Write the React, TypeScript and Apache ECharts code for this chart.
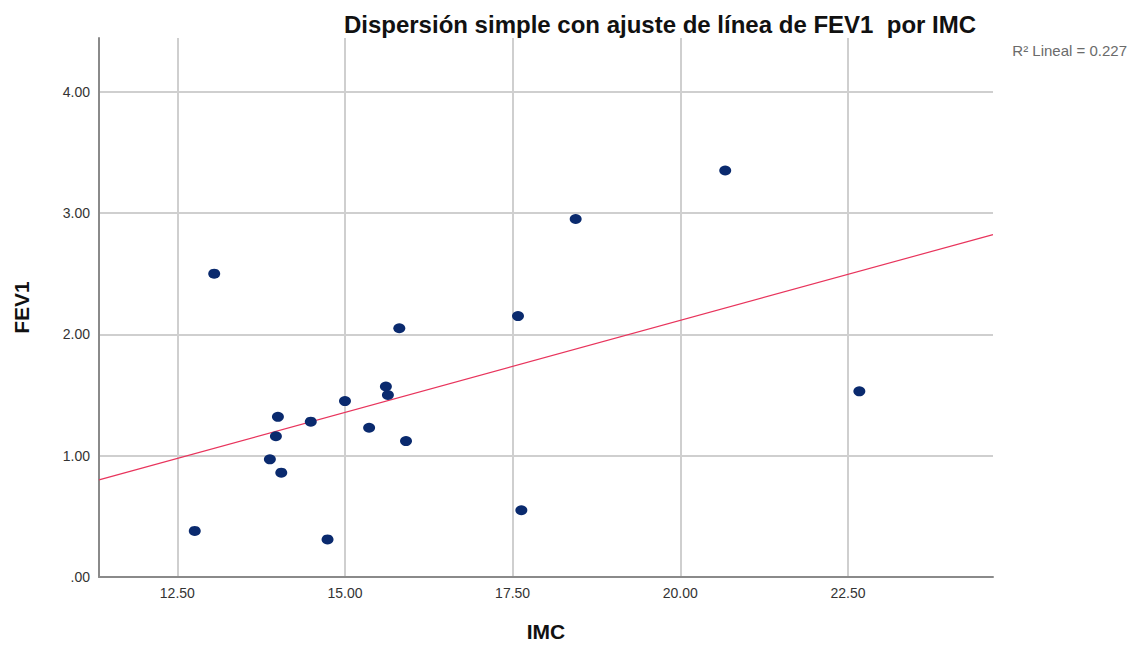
import React, { useEffect, useRef } from "react";
import * as echarts from "echarts";

const imc = [13.05, 15.81, 15.61, 15.64, 15.0, 14.0, 14.49, 15.36, 13.97, 15.91, 13.88, 14.05, 12.76, 14.74, 20.67, 18.44, 17.58, 22.67, 17.63];
const fev1 = [2.5, 2.05, 1.57, 1.5, 1.45, 1.32, 1.28, 1.23, 1.16, 1.12, 0.97, 0.86, 0.38, 0.31, 3.35, 2.95, 2.15, 1.53, 0.55];
const fitX = [11.332, 24.663];
const fitY = [0.8, 2.822];
const xTicks = [12.5, 15, 17.5, 20, 22.5];
const yTicks = [0, 1, 2, 3, 4];
const xRange = [11.332, 24.663];
const yRange = [0, 4.442];

const FONT = "Liberation Sans, Arial, sans-serif";

export default function App() {
  const ref = useRef<HTMLDivElement>(null);
  useEffect(() => {
    if (!ref.current) return;
    document.body.style.margin = "0";
    document.body.style.overflow = "hidden";
    document.documentElement.style.overflow = "hidden";
    const chart = echarts.init(ref.current, null, { renderer: "svg" });
    chart.setOption({
      animation: false,
      backgroundColor: "#ffffff",
      textStyle: { fontFamily: FONT },
      title: {
        text: "Dispersión simple con ajuste de línea de FEV1  por IMC",
        left: 655,
        top: 7,
        textAlign: "center",
        textStyle: { fontFamily: FONT, fontSize: 24, fontWeight: "bold", color: "#111" },
      },
      graphic: [
        {
          type: "text",
          right: 8,
          top: 43,
          style: { text: "R² Lineal = 0.227", fontFamily: FONT, fontSize: 15, fill: "#6b6b6b" },
        },
      ],
      grid: { left: 99, width: 894, top: 38, height: 546, containLabel: false },
      xAxis: {
        type: "value",
        min: xRange[0],
        max: xRange[1],
        name: "IMC",
        nameLocation: "middle",
        nameGap: 44,
        nameTextStyle: { fontFamily: FONT, fontSize: 21, fontWeight: "bold", color: "#111" },
        axisLine: { show: true, onZero: false, lineStyle: { color: "#8a8a8a", width: 2 } },
        axisTick: { show: false, customValues: xTicks },
        axisLabel: {
          customValues: xTicks,
          margin: 9,
          fontFamily: FONT,
          fontSize: 14,
          color: "#333",
          formatter: (v: number) => v.toFixed(2),
        },
        splitLine: { show: true, lineStyle: { color: "#cfcfcf", width: 2 } },
      },
      yAxis: {
        type: "value",
        min: yRange[0],
        max: yRange[1],
        name: "FEV1",
        nameLocation: "middle",
        nameGap: 67,
        nameTextStyle: { fontFamily: FONT, fontSize: 21, fontWeight: "bold", color: "#111" },
        axisLine: { show: true, onZero: false, lineStyle: { color: "#8a8a8a", width: 2 } },
        axisTick: { show: false, customValues: yTicks },
        axisLabel: {
          customValues: yTicks,
          margin: 9,
          fontFamily: FONT,
          fontSize: 14,
          color: "#333",
          formatter: (v: number) => (v === 0 ? ".00" : v.toFixed(2)),
        },
        splitLine: { show: true, lineStyle: { color: "#cfcfcf", width: 2 } },
      },
      series: [
        {
          type: "line",
          data: fitX.map((x, i) => [x, fitY[i]]),
          symbol: "none",
          lineStyle: { color: "#e8345c", width: 1.2 },
          z: 2,
        },
        {
          type: "scatter",
          data: imc.map((x, i) => [x, fev1[i]]),
          symbol: "circle",
          symbolSize: [12, 10],
          itemStyle: { color: "#0a2a6e", opacity: 1 },
          z: 3,
        },
      ],
    });
    return () => chart.dispose();
  }, []);
  return <div ref={ref} style={{ width: 1135, height: 647 }} />;
}
